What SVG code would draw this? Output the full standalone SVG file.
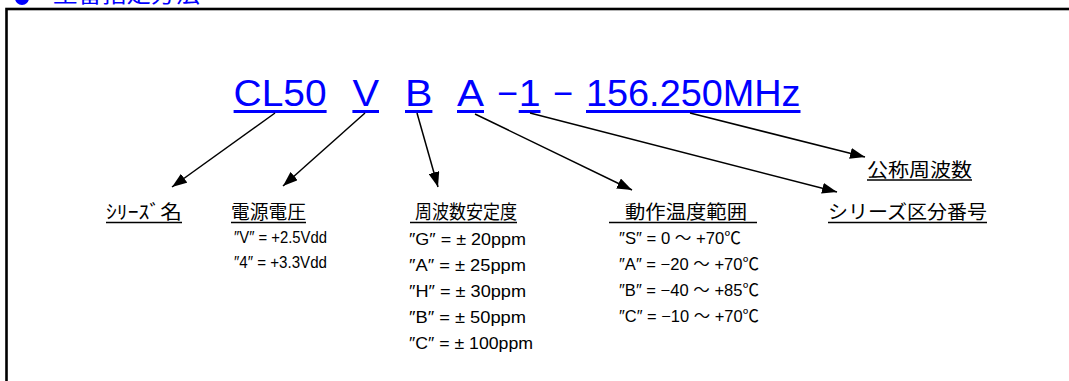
<svg xmlns="http://www.w3.org/2000/svg" width="1069" height="381" viewBox="0 0 1069 381">
<style>
.code{font-family:"Liberation Sans","Noto Sans CJK JP",sans-serif;font-size:37px;fill:#0000ff}
.ul{fill:#0000ff}
.head{font-family:"Noto Sans CJK JP",sans-serif;font-size:19px;fill:#000}
.row{font-family:"Liberation Sans","Noto Sans CJK JP",sans-serif;font-size:16.5px;fill:#000}
.hl{stroke:#000;stroke-width:1.6}
.conn line{stroke:#000;stroke-width:1.5;marker-end:url(#arr)}
</style>
<defs>
<marker id="arr" markerUnits="userSpaceOnUse" markerWidth="15" markerHeight="11" refX="15" refY="5.5" orient="auto">
<path d="M0,0 L15,5.5 L0,11 z" fill="#000"/>
</marker>
</defs>
<rect width="1069" height="381" fill="#fff"/>
<g id="title">
<circle cx="22" cy="-2" r="7" fill="#0000ff"/>
<text x="53" y="1.5" font-family="Noto Sans CJK JP,sans-serif" font-size="22" fill="#0000ff" textLength="147" lengthAdjust="spacingAndGlyphs">型番指定方法</text>
</g>
<rect id="frame" x="6.5" y="9" width="1100" height="400" fill="none" stroke="#000" stroke-width="2.6"/>
<g id="code">
<text class="code" x="233.6" y="106" textLength="93" lengthAdjust="spacingAndGlyphs">CL50</text>
<rect class="ul" x="233.6" y="110" width="93" height="3"/>
<text class="code" x="352.4" y="106" textLength="26.6" lengthAdjust="spacingAndGlyphs">V</text>
<rect class="ul" x="352.4" y="110" width="26.6" height="3"/>
<text class="code" x="405" y="106" textLength="27.4" lengthAdjust="spacingAndGlyphs">B</text>
<rect class="ul" x="405" y="110" width="27.4" height="3"/>
<text class="code" x="457" y="106" textLength="27" lengthAdjust="spacingAndGlyphs">A</text>
<rect class="ul" x="457" y="110" width="27" height="3"/>
<text class="code" x="497" y="106" textLength="21" lengthAdjust="spacingAndGlyphs">−</text>
<text class="code" x="518.7" y="106" textLength="21.8" lengthAdjust="spacingAndGlyphs">1</text>
<rect class="ul" x="518.7" y="110" width="21.8" height="3"/>
<text class="code" x="553" y="106" textLength="20" lengthAdjust="spacingAndGlyphs">−</text>
<text class="code" x="586" y="106" textLength="214.5" lengthAdjust="spacingAndGlyphs">156.250MHz</text>
<rect class="ul" x="586" y="110" width="214.5" height="3"/>
</g>
<g class="conn" id="connectors">
<line x1="275" y1="113" x2="172" y2="187"/>
<line x1="365" y1="113" x2="283" y2="186"/>
<line x1="417" y1="113" x2="438" y2="187"/>
<line x1="475" y1="114" x2="632" y2="190"/>
<line x1="530" y1="113" x2="837" y2="192"/>
<line x1="690" y1="113" x2="865" y2="157"/>
</g>
<g id="series">
<text class="head" x="106" y="219" textLength="76" lengthAdjust="spacingAndGlyphs">ｼﾘｰｽﾞ名</text>
<line class="hl" x1="106" y1="222.5" x2="182" y2="222.5"/>
</g>
<g id="voltage">
<text class="head" x="231" y="219" textLength="75" lengthAdjust="spacingAndGlyphs">電源電圧</text>
<line class="hl" x1="231" y1="222.5" x2="306" y2="222.5"/>
<text class="row" x="234" y="243" textLength="93" lengthAdjust="spacingAndGlyphs">″V″ = +2.5Vdd</text>
<text class="row" x="234" y="268" textLength="93" lengthAdjust="spacingAndGlyphs">″4″ = +3.3Vdd</text>
</g>
<g id="stability">
<text class="head" x="415" y="219" textLength="102" lengthAdjust="spacingAndGlyphs">周波数安定度</text>
<line class="hl" x1="410" y1="222.5" x2="517" y2="222.5"/>
<text class="row" x="409" y="245" textLength="117" lengthAdjust="spacingAndGlyphs">″G″ = ± 20ppm</text>
<text class="row" x="409" y="271" textLength="117" lengthAdjust="spacingAndGlyphs">″A″ = ± 25ppm</text>
<text class="row" x="409" y="297" textLength="117" lengthAdjust="spacingAndGlyphs">″H″ = ± 30ppm</text>
<text class="row" x="409" y="323" textLength="117" lengthAdjust="spacingAndGlyphs">″B″ = ± 50ppm</text>
<text class="row" x="409" y="349" textLength="124" lengthAdjust="spacingAndGlyphs">″C″ = ± 100ppm</text>
</g>
<g id="temperature">
<text class="head" x="625" y="219" textLength="122" lengthAdjust="spacingAndGlyphs">動作温度範囲</text>
<line class="hl" x1="609" y1="222.5" x2="757" y2="222.5"/>
<text class="row" x="619" y="244" textLength="122" lengthAdjust="spacingAndGlyphs">″S″ = 0 ～ +70℃</text>
<text class="row" x="619" y="270" textLength="140" lengthAdjust="spacingAndGlyphs">″A″ = −20 ～ +70℃</text>
<text class="row" x="619" y="296" textLength="140" lengthAdjust="spacingAndGlyphs">″B″ = −40 ～ +85℃</text>
<text class="row" x="619" y="322" textLength="140" lengthAdjust="spacingAndGlyphs">″C″ = −10 ～ +70℃</text>
</g>
<g id="nominal">
<text class="head" x="867" y="177" textLength="105" lengthAdjust="spacingAndGlyphs">公称周波数</text>
<line class="hl" x1="867" y1="180" x2="972" y2="180"/>
</g>
<g id="seriesno">
<text class="head" x="828" y="219" textLength="159" lengthAdjust="spacingAndGlyphs">シリーズ区分番号</text>
<line class="hl" x1="828" y1="222.5" x2="987" y2="222.5"/>
</g>
</svg>
